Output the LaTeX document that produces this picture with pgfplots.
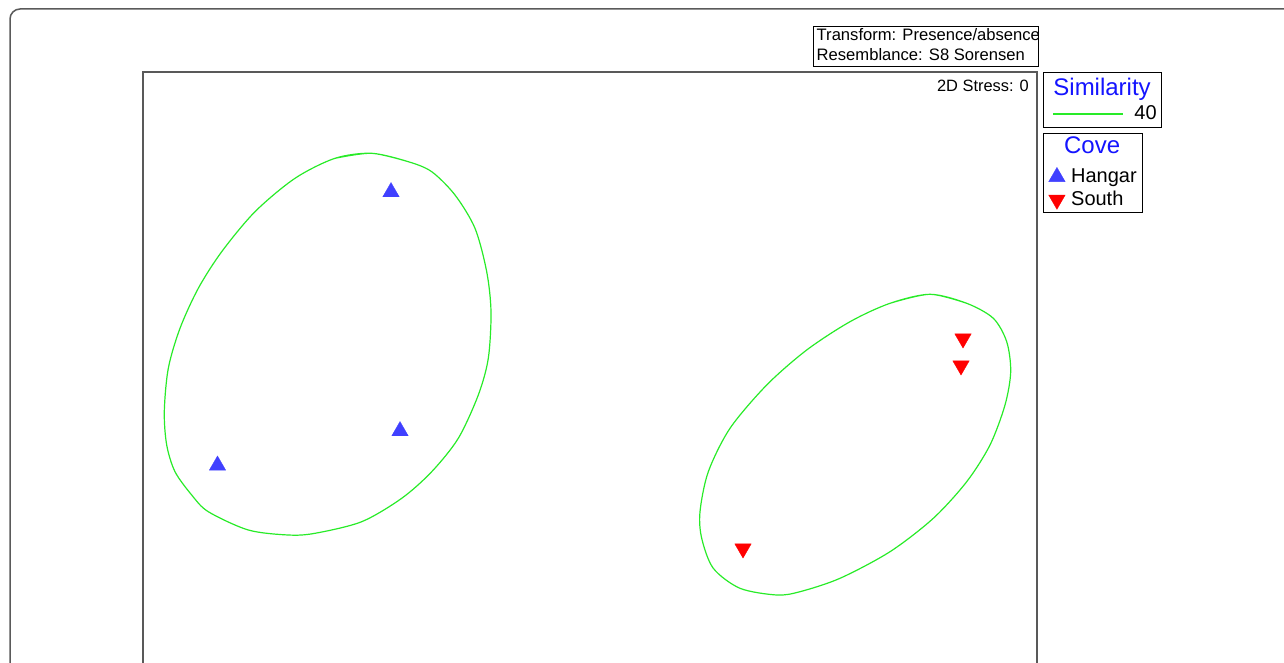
\documentclass[border=0pt]{standalone}
\usepackage{pgfplots}
\pgfplotsset{compat=1.18}
\usepackage{fontspec}
\setmainfont{Liberation Sans}

\definecolor{hangar}{RGB}{64,64,255}
\definecolor{south}{RGB}{255,0,0}
\definecolor{simgreen}{RGB}{40,235,40}
\definecolor{framegray}{RGB}{90,90,90}
\definecolor{titleblue}{RGB}{20,20,255}

\begin{document}
\begin{tikzpicture}
\clip (0,0) rectangle (1284pt,663pt);
% outer frame of the figure
\draw[framegray, line width=1.5pt, rounded corners=10pt] (10pt,654pt) rectangle (1320pt,-40pt);

% nMDS plot (axes in picture coordinates, y downward)
\begin{axis}[
  at={(143pt,591pt)}, anchor=north west,
  width=894pt, height=648pt, scale only axis,
  xmin=143, xmax=1037, ymin=72, ymax=720, y dir=reverse,
  ticks=none,
  axis line style={draw=black!65, line width=1.5pt},
  legend style={at={(1.0067,0.9059)}, anchor=north west,
    draw=black, line width=0.8pt, inner xsep=5pt, inner ysep=1.5pt,
    font=\fontsize{20}{22}\selectfont,
    nodes={inner sep=0.5pt},
    /tikz/column sep=5.5pt,
    cells={anchor=west}, row sep=1pt},
]
% 40% similarity contours
\addplot[simgreen, line width=1.2pt, smooth, forget plot] coordinates {
  (335,158.3) (371.7,153.3) (408.3,161.7) (431.7,171.7) (455,195) (475,228.3)
  (486.7,271.7) (491,311.7) (488.3,358.3) (478.3,395) (458.3,438.3)
  (431.7,471.7) (401.7,498.3) (361.7,521.7) (315,533.3) (288.3,535)
  (248.3,530) (208.3,511.7) (191.7,495) (175,471.7) (166.7,445)
  (164.3,411.7) (168.3,368.3) (180,328.3) (198.3,288.3) (221.7,251.7)
  (255,211.7) (295,178.3) (335,158.3) (371.7,153.3) (408.3,161.7)};
\addplot[simgreen, line width=1.2pt, smooth, forget plot] coordinates {
  (890,303.3) (930,294.3) (966.7,303.3) (993.3,318.3) (1006.7,341.7)
  (1010.7,371.7) (1005,405) (990,445) (966.7,481.7) (933.3,518.3)
  (890,551.7) (840,578.3) (800,591.7) (776.7,595) (740,588.3)
  (713.3,568.3) (701.7,538.3) (700,511.7) (708.3,471.7) (730,428.3)
  (766.7,385) (806.7,350) (850,321.7) (890,303.3) (930,294.3) (966.7,303.3)};

\addlegendimage{empty legend}
\addlegendentry[text height=18pt, text depth=11pt]{\hspace*{-7pt}\textcolor{titleblue}{\fontsize{24}{24}\selectfont Cove}}
\addplot[only marks, mark=triangle*, mark size=9.5pt, color=hangar, line width=0.3pt]
  coordinates {(391,192) (400,431) (217.5,465.4)};
\addlegendentry[text height=16pt, text depth=5pt]{Hangar}
\addplot[only marks, mark=triangle*, mark size=9.5pt, mark options={rotate=180}, color=south, line width=0.3pt]
  coordinates {(963,338.6) (961,365.6) (743,548.6)};
\addlegendentry[text height=16pt, text depth=5pt]{South}
\end{axis}

% second, empty axis that carries only the similarity legend box and text
\begin{axis}[
  at={(143pt,591pt)}, anchor=north west,
  width=894pt, height=648pt, scale only axis,
  xmin=143, xmax=1037, ymin=72, ymax=720, y dir=reverse,
  hide axis,
  legend image code/.code={\path[draw=none] (0pt,-3pt) rectangle (75.5pt,3pt);},
  legend style={at={(1.0067,1)}, anchor=north west,
    draw=black, line width=0.8pt, inner xsep=4pt, inner ysep=1.5pt,
    font=\fontsize{20}{22}\selectfont,
    nodes={inner sep=0.5pt},
    /tikz/column sep=11pt,
    cells={anchor=west}, row sep=1pt},
]
\addlegendimage{empty legend}
\addlegendentry[text height=21pt, text depth=6pt]{\hspace*{-81pt}\textcolor{titleblue}{\fontsize{24}{24}\selectfont Similarity}}
\addlegendimage{simgreen}
\addlegendentry[text height=16pt, text depth=6pt]{40}
\end{axis}
% key line of the similarity legend
\draw[simgreen, line width=1.2pt] (1053pt,549pt) -- (1123pt,549pt);

% resemblance box and stress value
\draw[black, line width=0.8pt] (813pt,637pt) rectangle (1038pt,597pt);
\node[anchor=base west, inner sep=0pt, font=\fontsize{16.6}{20}\selectfont] at (816.5pt,622pt) {Transform: Presence/absence};
\node[anchor=base west, inner sep=0pt, font=\fontsize{16.6}{20}\selectfont] at (816.5pt,602pt) {Resemblance: S8 Sorensen};
\node[anchor=base east, inner sep=0pt, font=\fontsize{16.4}{19}\selectfont] at (1029pt,571pt) {2D Stress: 0};
\end{tikzpicture}
\end{document}
